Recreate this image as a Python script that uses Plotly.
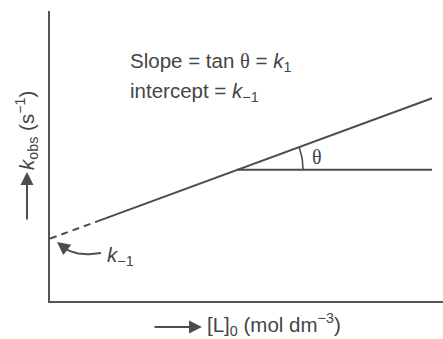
import numpy as np
import plotly.graph_objects as go

# Straight-line plot of k_obs against [L]0 (arbitrary units)
conc_dashed = [0.0, 1.15]
kobs_dashed = [2.15, 2.72]
conc_solid = [1.15, 9.72]
kobs_solid = [2.72, 6.99]
# horizontal reference used to mark the angle theta
conc_ref = [4.76, 9.72]
kobs_ref = [4.53, 4.53]

LINE = "#4d4d4d"
TEXT = "#454545"
W, H = 443, 339
ML, MR, MT, MB = 50, 0, 11, 38
XR, YR = [0, 10], [0, 10]
sx = (W - ML - MR) / (XR[1] - XR[0])   # px per x unit
sy = (H - MT - MB) / (YR[1] - YR[0])   # px per y unit


def px_to_data(px, py):
    return (px - ML) / sx + XR[0], (H - MB - py) / sy + YR[0]


def px_to_paper(px, py):
    return (px - ML) / (W - ML - MR), (H - MB - py) / (H - MT - MB)


fig = go.Figure()
fig.add_trace(go.Scatter(x=conc_dashed, y=kobs_dashed, mode="lines",
                         line=dict(color=LINE, width=2, dash="7px,5px"),
                         hoverinfo="skip"))
fig.add_trace(go.Scatter(x=conc_solid, y=kobs_solid, mode="lines",
                         line=dict(color=LINE, width=2), hoverinfo="skip"))
fig.add_trace(go.Scatter(x=conc_ref, y=kobs_ref, mode="lines",
                         line=dict(color=LINE, width=2), hoverinfo="skip"))

# angle arc between the line and the horizontal
slope_px = (kobs_solid[1] - kobs_solid[0]) * sy / ((conc_solid[1] - conc_solid[0]) * sx)
theta = np.arctan(slope_px)
r_px = 66
a = np.linspace(0, theta, 30)
arc_x = conc_ref[0] + r_px * np.cos(a) / sx
arc_y = kobs_ref[0] + r_px * np.sin(a) / sy
fig.add_trace(go.Scatter(x=arc_x, y=arc_y, mode="lines",
                         line=dict(color=LINE, width=1.6), hoverinfo="skip"))

# curved pointer to the intercept
p0, c, p1 = np.array([101, 253]), np.array([78, 257]), np.array([64, 248])
t = np.linspace(0, 1, 30)[:, None]
bez = (1 - t) ** 2 * p0 + 2 * (1 - t) * t * c + t ** 2 * p1
bx, by = zip(*[px_to_data(u, v) for u, v in bez])
fig.add_trace(go.Scatter(x=bx, y=by, mode="lines",
                         line=dict(color=LINE, width=2), hoverinfo="skip"))
tipx, tipy = px_to_data(57, 242)
fig.add_annotation(x=tipx, y=tipy, ax=9, ay=7, text="", showarrow=True,
                   arrowhead=2, arrowsize=1.3, arrowwidth=2, arrowcolor=LINE)

font = dict(family="Liberation Sans, Arial, sans-serif", size=20.5, color=TEXT)

tx, ty = px_to_data(128, 62)
fig.add_annotation(x=tx, y=ty, xanchor="left", yanchor="middle", showarrow=False,
                   text="Slope = tan <span style='font-family:Liberation Serif'>θ</span> = <i>k</i><sub>1</sub>",
                   font=font)
tx, ty = px_to_data(128, 92)
fig.add_annotation(x=tx, y=ty, xanchor="left", yanchor="middle", showarrow=False,
                   text="intercept = <i>k</i><sub>−1</sub>", font=font)
tx, ty = px_to_data(105, 256)
fig.add_annotation(x=tx, y=ty, xanchor="left", yanchor="middle", showarrow=False,
                   text="<i>k</i><sub>−1</sub>", font=font)
tx, ty = px_to_data(310, 157)
fig.add_annotation(x=tx, y=ty, xanchor="left", yanchor="middle", showarrow=False,
                   text="θ", font=dict(family="Liberation Serif, serif", size=20, color=TEXT))

# axis titles with arrows (paper coordinates, outside the plot area)
ex, ey = px_to_paper(202, 327)
fig.add_annotation(xref="paper", yref="paper", x=ex, y=ey, ax=-49, ay=0,
                   text="", showarrow=True,
                   arrowhead=2, arrowsize=1.3, arrowwidth=2, arrowcolor=LINE)
lx, ly = px_to_paper(205, 324)
fig.add_annotation(xref="paper", yref="paper", x=lx, y=ly, xanchor="left",
                   yanchor="middle", showarrow=False,
                   text="[L]<sub>0</sub> (mol dm<sup>−3</sup>)", font=font)

ux, uy = px_to_paper(27, 172)
fig.add_annotation(xref="paper", yref="paper", x=ux, y=uy, ax=0, ay=49,
                   text="", showarrow=True,
                   arrowhead=2, arrowsize=1.3, arrowwidth=2, arrowcolor=LINE)
yx, yy = px_to_paper(26, 131)
fig.add_annotation(xref="paper", yref="paper", x=yx, y=yy, xanchor="center",
                   yanchor="middle", showarrow=False, textangle=-90,
                   text="<i>k</i><sub>obs</sub> (s<sup>−1</sup>)", font=font)

axis_style = dict(showline=True, linecolor="#555555", linewidth=2, mirror=False,
                  showgrid=False, zeroline=False, showticklabels=False, ticks="",
                  fixedrange=True)
fig.update_xaxes(range=XR, **axis_style)
fig.update_yaxes(range=YR, **axis_style)
fig.update_layout(width=W, height=H, margin=dict(l=ML, r=MR, t=MT, b=MB),
                  plot_bgcolor="white", paper_bgcolor="white", showlegend=False)

fig.write_html("out.html", config={"displayModeBar": False})
